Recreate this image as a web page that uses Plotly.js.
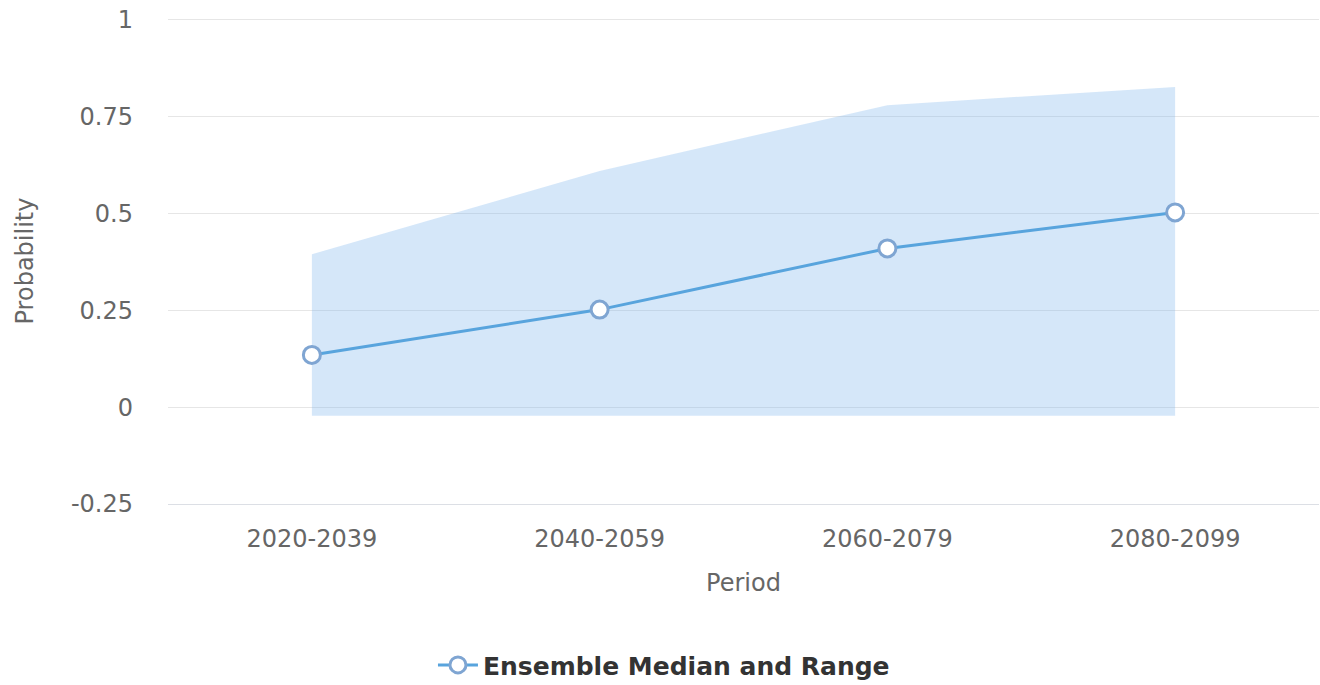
<!DOCTYPE html>
<html>
<head>
<meta charset="utf-8">
<script src="https://cdn.plot.ly/plotly-3.0.1.min.js"></script>
<style>
  html, body { margin: 0; padding: 0; background: #ffffff; }
  #chart { width: 1320px; height: 685px; }
</style>
</head>
<body>
<div id="chart"></div>
<script>
const periods = ["2020-2039", "2040-2059", "2060-2079", "2080-2099"];
const medianValues = [0.135, 0.252, 0.41, 0.503];
const rangeLow = [-0.022, -0.022, -0.022, -0.022];
const rangeHigh = [0.395, 0.61, 0.78, 0.827];
const yTickValues = [-0.25, 0, 0.25, 0.5, 0.75, 1];
const yTickLabels = ["-0.25", "0", "0.25", "0.5", "0.75", "1"];
const seriesName = "Ensemble Median and Range";

const FONT = "DejaVu Sans, Lucida Grande, Verdana, sans-serif";

const traces = [
  {
    x: periods, y: rangeLow, type: "scatter", mode: "lines",
    line: { width: 0, color: "rgba(0,0,0,0)" },
    showlegend: false, hoverinfo: "skip"
  },
  {
    x: periods, y: rangeHigh, type: "scatter", mode: "lines",
    fill: "tonexty", fillcolor: "rgba(124,181,236,0.32)",
    line: { width: 0, color: "rgba(0,0,0,0)" },
    showlegend: false, hoverinfo: "skip"
  },
  {
    x: periods, y: medianValues, type: "scatter", mode: "lines+markers",
    name: seriesName,
    line: { color: "#58a4dd", width: 3 },
    marker: { symbol: "circle", size: 17, color: "#ffffff",
              line: { color: "#7fa5d2", width: 3 } }
  }
];

const layout = {
  width: 1320, height: 685,
  paper_bgcolor: "#ffffff", plot_bgcolor: "#ffffff",
  font: { family: FONT, color: "#666666", size: 24 },
  margin: { l: 168, r: 1, t: 18, b: 181, autoexpand: false },
  showlegend: true,
  xaxis: {
    type: "category",
    range: [-0.5, 3.5],
    showgrid: false,
    zeroline: false,
    showline: true, linecolor: "#dcdfe5", linewidth: 1,
    ticks: "", ticklabelstandoff: 13,
    tickfont: { family: FONT, size: 24, color: "#666666" },
    title: { text: "Period", font: { family: FONT, size: 24, color: "#666666" }, standoff: 22 },
    automargin: false,
    fixedrange: true
  },
  yaxis: {
    range: [-0.25, 1.005],
    tickvals: yTickValues, ticktext: yTickLabels,
    showgrid: true, gridcolor: "#e6e6e6", gridwidth: 1,
    zeroline: false, showline: false,
    ticks: "", ticklabelstandoff: 34,
    tickfont: { family: FONT, size: 24, color: "#666666" },
    title: { text: "Probability", font: { family: FONT, size: 24, color: "#666666" }, standoff: 30 },
    automargin: false,
    fixedrange: true
  },
  legend: {
    orientation: "h",
    xref: "container", yref: "container",
    x: 0.503, xanchor: "center",
    y: 0.029, yanchor: "middle",
    font: { family: FONT, size: 25, color: "#333333", weight: "bold" },
    itemwidth: 40
  },
  hovermode: false
};

Plotly.newPlot("chart", traces, layout, { displayModeBar: false, staticPlot: true });
</script>
</body>
</html>
